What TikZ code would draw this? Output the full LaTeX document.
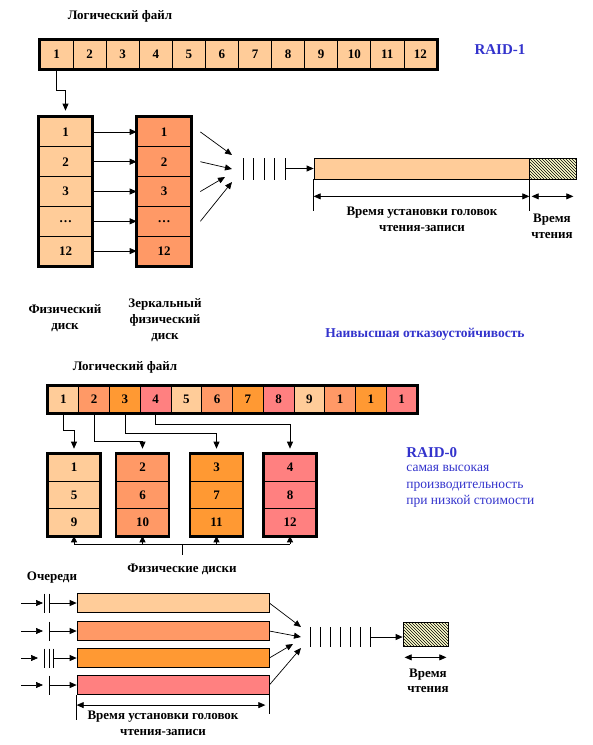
\documentclass[tikz,border=0pt]{standalone}
\usepackage{fontspec}
\setmainfont{Liberation Serif}
\usetikzlibrary{arrows.meta, patterns, calc, positioning}
\definecolor{RaidPeach}{RGB}{255, 204, 153}
\definecolor{RaidSalmon}{RGB}{255, 153, 102}
\definecolor{RaidOrange}{RGB}{255, 153, 51}
\definecolor{RaidPink}{RGB}{255, 128, 128}
\definecolor{RaidBlue}{RGB}{51, 51, 204}
\definecolor{RaidHatch}{RGB}{255, 255, 204}
\colorlet{stripe0}{RaidPeach}
\colorlet{stripe1}{RaidSalmon}
\colorlet{stripe2}{RaidOrange}
\colorlet{stripe3}{RaidPink}

\begin{document}
\begin{tikzpicture}[x=1pt, y=-1pt, line width=0.7pt,
    lbl/.style={font=\fontsize{13}{16}\selectfont\bfseries, align=center},
    blk/.style={draw, line width=0.7pt, inner sep=0pt, font=\fontsize{13}{15}\selectfont\bfseries},
    outer/.style={line width=2.6pt},
    arr/.style={-{Triangle[length=7pt,width=6pt]}},
    dimarr/.style={{Triangle[length=7pt,width=6pt]}-{Triangle[length=7pt,width=6pt]}},
    hatch/.style={draw, fill=RaidHatch, inner sep=0pt, postaction={pattern=north west lines}},
    raidtitle/.style={text=RaidBlue, font=\fontsize{15}{17}\selectfont\bfseries}]

    \useasboundingbox (0,0) rectangle (593,745);

    % --- RAID-1: Logical file ---
    \node[lbl] (lf1) at (120,16) {Логический файл};
    \foreach \i in {1,...,12}
        \node[blk, fill=RaidPeach, minimum width=33.08pt, minimum height=29pt] (f\i) at ({40+33.08*(\i-0.5)},54.5) {\i};
    \draw[outer] (f1.north west) rectangle (f12.south east);
    \node[raidtitle] (raid1) at (500,50) {RAID-1};

    % --- Physical disk and its mirror ---
    \foreach \t [count=\r] in {1,2,3,\ldots,12} {
        \node[blk, fill=RaidPeach, minimum width=53pt, minimum height=29.8pt] (p\r) at (65.5,{117+29.8*(\r-0.5)}) {\t};
        \node[blk, fill=RaidSalmon, minimum width=54pt, minimum height=29.8pt] (m\r) at (164,{117+29.8*(\r-0.5)}) {\t};
        \draw[arr] (p\r.east) -- (m\r.west);
    }
    \draw[outer] (p1.north west) rectangle (p5.south east);
    \draw[outer] (m1.north west) rectangle (m5.south east);
    \draw[arr, shorten >=6pt] (f1.south) -- ++(0,21) -| (p1.north);

    % --- Request queue ---
    \coordinate (qa) at (232,155);
    \coordinate (qb) at (232,169);
    \coordinate (qc) at (225,177);
    \coordinate (qd) at (232,182);
    \foreach \r/\q in {1/qa,2/qb,3/qc,4/qd}
        \draw[arr] ($(m\r.east)+(9,0)$) -- (\q);
    \foreach \x in {243,253.5,264,274.5,285}
        \draw (\x,158) -- (\x,180);
    \coordinate (qend1) at (285,168.5);

    % --- Timing bar ---
    \node[draw, fill=RaidPeach, inner sep=0pt, minimum width=215pt, minimum height=21pt] (seek1) at (421.5,168.5) {};
    \node[hatch, minimum width=47pt, minimum height=21pt] (read1) at (552.5,168.5) {};
    \draw[arr] (qend1) -- (seek1.west);
    \draw (seek1.south west) -- ++(0,32);
    \draw (seek1.south east) -- ++(0,32);
    \draw[dimarr] ($(seek1.south west)+(0,17)$) -- ($(seek1.south east)+(0,17)$);
    \draw[dimarr] ($(read1.south west)+(3,17)$) -- ($(read1.south east)+(-3,17)$);
    \node[lbl] (seeklbl1) at (422,219) {Время установки головок\\чтения-записи};
    \node[lbl] (readlbl1) at (552,226.5) {Время\\чтения};

    % --- Captions ---
    \node[lbl] (pdisk) at (65,318.5) {Физический\\диск};
    \node[lbl] (mdisk) at (165,320) {Зеркальный\\физический\\диск};
    \node[text=RaidBlue, font=\fontsize{13.5}{15}\selectfont\bfseries] (note1) at (425,334) {Наивысшая отказоустойчивость};

    % --- RAID-0: Logical file ---
    \node[lbl] (lf2) at (125,367) {Логический файл};
    \foreach \t [count=\i] in {1,...,9,1,1,1} {
        \pgfmathtruncatemacro\c{mod(\i-1,4)}
        \node[blk, fill=stripe\c, minimum width=30.75pt, minimum height=27pt] (s\i) at ({48+30.75*(\i-0.5)},399.5) {\t};
    }
    \draw[outer] (s1.north west) rectangle (s12.south east);

    % --- Striped disks ---
    \foreach \k/\x in {1/74,2/142.5,3/216.5,4/290} {
        \pgfmathtruncatemacro\c{\k-1}
        \foreach \r in {1,2,3} {
            \pgfmathtruncatemacro\n{\k+4*(\r-1)}
            \node[blk, fill=stripe\c, minimum width=52pt, minimum height=27.3pt] (r\k-\r) at (\x,{454+27.3*(\r-0.5)}) {\n};
        }
        \draw[outer] (r\k-1.north west) rectangle (r\k-3.south east);
    }
    \foreach \k/\d in {1/17,2/28,3/20,4/11}
        \draw[arr, shorten >=5pt] (s\k.south) -- ++(0,\d) -| (r\k-1.north);

    % bracket under the disks
    \coordinate (pd) at (182,544);
    \draw (r1-3.south |- pd) -- (r4-3.south |- pd);
    \foreach \k in {1,...,4}
        \draw[-{Triangle[length=6pt,width=6pt]}] (r\k-3.south |- pd) -- (r\k-3.south);
    \draw (pd) -- ++(0,11);
    \node[lbl] (pdisks) at (182,569) {Физические диски};

    \node[raidtitle, anchor=west, inner sep=0pt] (raid0) at (406,453) {RAID-0};
    \node[anchor=north west, text=RaidBlue, font=\fontsize{13.5}{16.5}\selectfont, align=left, inner sep=0pt] (note0) at (406,465) {самая высокая\\производительность\\при низкой стоимости};

    % --- Queues ---
    \node[lbl] (qlbl) at (52,578) {Очереди};
    \foreach \r/\y/\tip/\last/\ls in {1/603/43/49/{44,49}, 2/631/43/49/{49}, 3/658/38/53/{44,49,53}, 4/685/43/49/{49}} {
        \pgfmathtruncatemacro\c{\r-1}
        \node[draw, fill=stripe\c, inner sep=0pt, minimum width=192pt, minimum height=19.5pt] (qb\r) at (173,\y) {};
        \coordinate (qi\r) at (21,\y);
        \coordinate (qt\r) at (\tip,\y);
        \coordinate (ql\r) at (\last,\y);
        \draw[arr] (qi\r) -- (qt\r);
        \foreach \x in \ls
            \draw (\x,\y-9.5) -- (\x,\y+9.5);
        \draw[arr] (ql\r) -- (qb\r.west);
    }
    \coordinate (qe) at (301,627);
    \coordinate (qf) at (301,637);
    \coordinate (qg) at (293,644);
    \coordinate (qh) at (301,648);
    \foreach \r/\q in {1/qe,2/qf,3/qg,4/qh}
        \draw[arr] (qb\r.east) -- (\q);
    \foreach \x in {310,320,...,370}
        \draw (\x,627) -- (\x,647);
    \coordinate (qend2) at (370,637);

    \node[hatch, minimum width=45pt, minimum height=24pt] (read2) at (425.5,634) {};
    \draw[arr] (qend2) -- (qend2 -| read2.west);
    \draw[dimarr] ($(read2.south west)+(2,11)$) -- ($(read2.south east)+(-2,11)$);
    \node[lbl, font=\fontsize{13}{14.5}\selectfont\bfseries] (readlbl2) at (428,681) {Время\\чтения};

    % --- Seek time (RAID-0) ---
    \draw (qb4.south west) -- ++(0,25);
    \draw (qb4.south east) -- ++(0,19);
    \draw[dimarr] ($(qb4.south west)+(0,10)$) -- ($(qb4.south east)+(-4,10)$);
    \node[lbl] (seeklbl2) at (163,723) {Время установки головок\\чтения-записи};

\end{tikzpicture}
\end{document}
